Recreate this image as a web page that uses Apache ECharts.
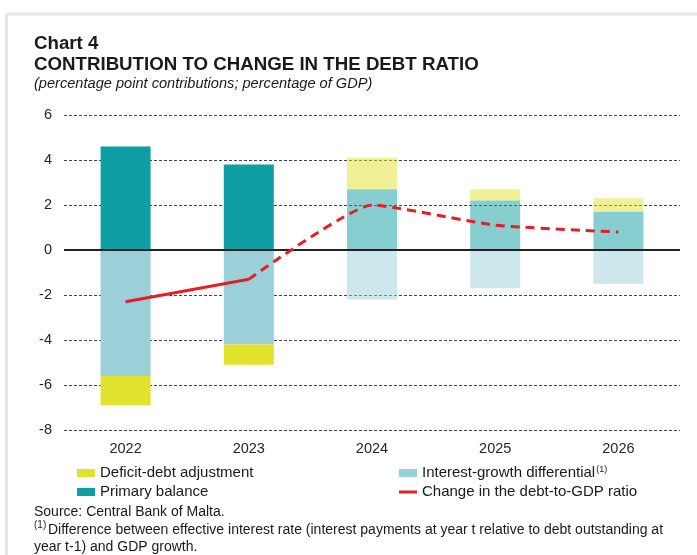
<!DOCTYPE html>
<html>
<head>
<meta charset="utf-8">
<script src="https://cdn.jsdelivr.net/npm/echarts@6/dist/echarts.min.js"></script>
<style>
html,body{margin:0;padding:0;background:#fff;}
#chart{width:697px;height:555px;}
</style>
</head>
<body>
<div id="chart"></div>
<script>
// ---- data ----
var categories = ['2022', '2023', '2024', '2025', '2026'];
var primaryBalance = [4.6, 3.8, 2.7, 2.2, 1.7];
var interestGrowth = [-5.6, -4.2, -2.2, -1.7, -1.5];
var deficitDebt = [-1.3, -0.9, 1.4, 0.5, 0.6];
var debtChangeActual = [-2.3, -1.3, null, null, null];
var debtChangeProjected = [null, -1.3, 2.0, 1.1, 0.8];
var projectedFrom = 2; // index of first projection year
var yTicks = [-8, -6, -4, -2, 0, 2, 4, 6];

var FONT = '"Liberation Sans", Arial, sans-serif';
var cPrimary = '#0f9ea4';
var cIGD = '#9bd0d9';
var cDDA = '#e1e22e';
var cLine = '#e41e26';

function barData(vals) {
  return vals.map(function (v, i) {
    return i >= projectedFrom ? { value: v, itemStyle: { opacity: 0.5 } } : v;
  });
}

var chart = echarts.init(document.getElementById('chart'), null, { renderer: 'canvas' });
var option = {
  backgroundColor: '#fff',
  animation: false,
  textStyle: { fontFamily: FONT },
  grid: { left: 64, right: 17, top: 115, bottom: 125 },
  xAxis: {
    type: 'category',
    data: categories,
    axisLine: { show: false },
    axisTick: { show: false },
    axisLabel: { color: '#262626', fontSize: 14.5, fontFamily: FONT, margin: 11 }
  },
  yAxis: {
    type: 'value',
    min: yTicks[0],
    max: yTicks[yTicks.length - 1],
    interval: 2,
    axisLine: { show: false },
    axisTick: { show: false },
    axisLabel: { color: '#262626', fontSize: 14.5, fontFamily: FONT, margin: 12 },
    splitLine: { lineStyle: { color: '#444', width: 1, type: [3, 2] } }
  },
  legend: [
    {
      orient: 'vertical', left: 77, top: 465, padding: 0, itemGap: 3,
      itemWidth: 18, itemHeight: 8,
      textStyle: { fontSize: 15, color: '#1a1a1a', fontFamily: FONT, lineHeight: 16 },
      data: [
        { name: 'Deficit-debt adjustment', icon: 'rect' },
        { name: 'Primary balance', icon: 'rect' }
      ]
    },
    {
      orient: 'vertical', left: 399, top: 465, padding: 0, itemGap: 3,
      itemWidth: 18, itemHeight: 8,
      textStyle: {
        fontSize: 15, color: '#1a1a1a', fontFamily: FONT, lineHeight: 16,
        rich: { sup: { fontSize: 9, fontFamily: FONT, color: '#1a1a1a', verticalAlign: 'top', padding: [0, 0, 10, 1] } }
      },
      formatter: function (name) {
        return name === 'Interest-growth differential' ? name + '{sup|(1)}' : name;
      },
      data: [
        { name: 'Interest-growth differential', icon: 'rect' },
        { name: 'Change in the debt-to-GDP ratio', icon: 'path://M0,0L18,0L18,3L0,3Z' }
      ]
    }
  ],
  series: [
    {
      name: 'Primary balance', type: 'bar', stack: 'total', barWidth: 50,
      itemStyle: { color: cPrimary }, data: barData(primaryBalance)
    },
    {
      name: 'Interest-growth differential', type: 'bar', stack: 'total', barWidth: 50,
      itemStyle: { color: cIGD }, data: barData(interestGrowth)
    },
    {
      name: 'Deficit-debt adjustment', type: 'bar', stack: 'total', barWidth: 50,
      itemStyle: { color: cDDA }, data: barData(deficitDebt),
      markLine: {
        silent: true, symbol: 'none', label: { show: false },
        lineStyle: { color: '#222', width: 2, type: 'solid' },
        data: [{ yAxis: 0 }]
      }
    },
    {
      name: 'Change in the debt-to-GDP ratio', type: 'line', symbol: 'none', z: 5,
      lineStyle: { color: cLine, width: 3 }, itemStyle: { color: cLine },
      data: debtChangeActual
    },
    {
      name: 'Change in the debt-to-GDP ratio (projection)', type: 'line', symbol: 'none', z: 5,
      smooth: 0.15,
      lineStyle: { color: cLine, width: 3, type: [9, 6] }, itemStyle: { color: cLine },
      data: debtChangeProjected
    }
  ],
  graphic: [
    { type: 'line', shape: { x1: 6.5, y1: 14, x2: 697, y2: 14 }, style: { stroke: '#e6e6e6', lineWidth: 3 }, silent: true },
    { type: 'line', shape: { x1: 6.5, y1: 14, x2: 6.5, y2: 555 }, style: { stroke: '#e6e6e6', lineWidth: 3 }, silent: true },
    { type: 'text', left: 34, top: 34, style: { text: 'Chart 4', font: 'bold 18.7px ' + FONT, fill: '#1a1a1a' } },
    { type: 'text', left: 34, top: 55, style: { text: 'CONTRIBUTION TO CHANGE IN THE DEBT RATIO', font: 'bold 18.7px ' + FONT, fill: '#1a1a1a' } },
    { type: 'text', left: 34, top: 76, style: { text: '(percentage point contributions; percentage of GDP)', font: 'italic 14.6px ' + FONT, fill: '#1a1a1a' } },
    { type: 'text', left: 34, top: 505, style: { text: 'Source: Central Bank of Malta.', font: '14px ' + FONT, fill: '#1a1a1a' } },
    { type: 'text', left: 34, top: 520, style: { text: '(1)', font: '10px ' + FONT, fill: '#1a1a1a' } },
    { type: 'text', left: 48, top: 523, style: { text: 'Difference between effective interest rate (interest payments at year t relative to debt outstanding at', font: '14px ' + FONT, fill: '#1a1a1a' } },
    { type: 'text', left: 34, top: 540, style: { text: 'year t-1) and GDP growth.', font: '14px ' + FONT, fill: '#1a1a1a' } }
  ]
};
chart.setOption(option);
</script>
</body>
</html>
